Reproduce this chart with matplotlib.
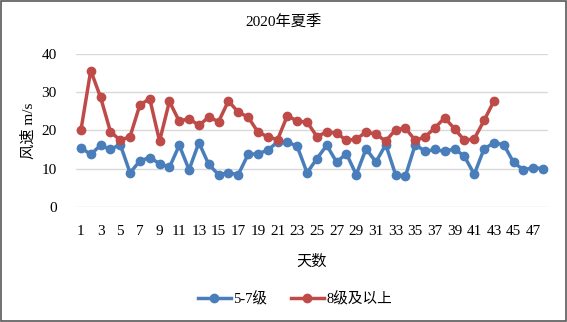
import matplotlib
matplotlib.use("Agg")
import matplotlib.pyplot as plt
from matplotlib.patches import Rectangle
from matplotlib.lines import Line2D

days = list(range(1, 49))
level_5_7 = [15.5, 13.7, 16.1, 15.0, 16.3, 8.9, 12.0, 12.9, 11.3, 10.3,
             16.1, 9.7, 16.8, 11.1, 8.4, 8.9, 8.4, 13.7, 13.9, 14.8,
             17.0, 17.0, 15.8, 8.9, 12.6, 16.1, 11.7, 13.9, 8.4, 15.2,
             11.7, 16.3, 8.4, 8.0, 16.3, 14.5, 15.0, 14.5, 15.2, 13.2,
             8.5, 15.2, 16.7, 16.3, 11.6, 9.7, 10.2, 10.0]
level_8_plus = [20.0, 35.7, 28.7, 19.7, 17.4, 18.4, 26.7, 28.3, 17.2, 27.6,
                22.4, 23.1, 21.3, 23.5, 22.3, 27.7, 24.8, 23.5, 19.6, 18.3,
                17.6, 23.9, 22.4, 22.2, 18.4, 19.6, 19.3, 17.4, 17.7, 19.6,
                19.0, 17.2, 20.2, 20.6, 17.4, 18.3, 20.7, 23.3, 20.4, 17.4,
                17.8, 22.6, 27.7]
title = "2020年夏季"
series_names = ["5-7级", "8级及以上"]
y_ticks = [0, 10, 20, 30, 40]

FONT = ["Liberation Serif", "Noto Sans CJK SC", "DejaVu Sans"]
plt.rcParams["font.family"] = FONT

blue = "#4A7EBB"
red = "#BE4B48"
LW = 2.5
MS = 6

fig = plt.figure(figsize=(5.67, 3.22), dpi=100)
ax = fig.add_axes([0.134, 0.358, 0.8325, 0.474])

ax.plot(days, level_5_7, color=blue, lw=LW, marker="o", ms=MS, zorder=3)
ax.plot(days[:len(level_8_plus)], level_8_plus, color=red, lw=LW, marker="o", ms=MS, zorder=4)

ax.set_xlim(0.5, 48.5)
ax.set_ylim(0, 40)
ax.set_yticks(y_ticks)
ax.set_xticks(days[::2])
ax.set_xticklabels([str(d) for d in days[::2]])
ax.tick_params(axis="both", length=0, labelsize=11, colors="#000000")
ax.tick_params(axis="x", pad=13)
ax.tick_params(axis="y", pad=14)
for s in ax.spines.values():
    s.set_visible(False)
ax.grid(axis="y", color="#D9D9D9", lw=1)
ax.set_axisbelow(True)

ax.set_ylabel("风速 m/s", fontsize=11, labelpad=4)
ax.set_xlabel("天数", fontsize=11, labelpad=12)

fig.text(0.5, 0.928, title, ha="center", va="center", fontsize=11)

handles = [Line2D([], [], color=blue, lw=LW, marker="o", ms=MS),
           Line2D([], [], color=red, lw=LW, marker="o", ms=MS)]
fig.legend(handles, series_names, loc="center", bbox_to_anchor=(0.52, 0.071), ncol=2,
           frameon=False, fontsize=10.5, handlelength=2.3, handletextpad=0.15,
           columnspacing=1.6)

fig.patches.append(Rectangle((0.001, 0.002), 0.997, 0.995, transform=fig.transFigure,
                             fill=False, edgecolor="#595959", lw=1.2))

fig.savefig("out.png", dpi=100)
